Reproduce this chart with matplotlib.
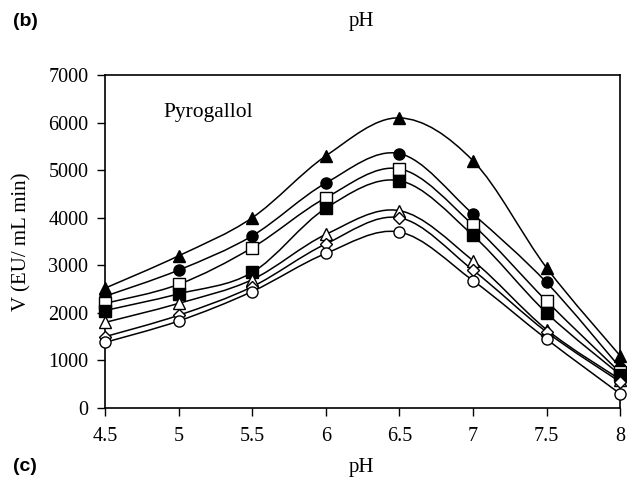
import numpy as np
import matplotlib
matplotlib.use("Agg")
import matplotlib.pyplot as plt
from matplotlib.path import Path
from matplotlib.patches import PathPatch

plt.rcParams['font.family'] = ['Liberation Serif', 'DejaVu Serif']

ph = [4.5, 5, 5.5, 6, 6.5, 7, 7.5, 8]

tri_filled = [2520, 3200, 4000, 5300, 6100, 5200, 2950, 1100]
circ_filled = [2350, 2900, 3620, 4730, 5350, 4080, 2640, 850]
sq_open = [2200, 2600, 3370, 4420, 5030, 3850, 2250, 750]
sq_filled = [2050, 2400, 2850, 4200, 4780, 3630, 2000, 700]
tri_open = [1800, 2200, 2700, 3650, 4150, 3100, 1650, 600]
diam_open = [1500, 1950, 2550, 3450, 4000, 2900, 1600, 550]
circ_open = [1380, 1830, 2450, 3250, 3700, 2680, 1450, 300]

series = [
    (tri_filled, '^', 'black'),
    (circ_filled, 'o', 'black'),
    (sq_open, 's', 'white'),
    (sq_filled, 's', 'black'),
    (tri_open, '^', 'white'),
    (diam_open, 'D', 'white'),
    (circ_open, 'o', 'white'),
]


def smooth_path(x, y):
    # excel-like smoothed line: catmull-rom as cubic bezier
    pts = np.column_stack([x, y]).astype(float)
    verts = [pts[0]]
    codes = [Path.MOVETO]
    n = len(pts)
    for i in range(n - 1):
        p0 = pts[i - 1] if i > 0 else pts[i]
        p1 = pts[i]
        p2 = pts[i + 1]
        p3 = pts[i + 2] if i + 2 < n else pts[i + 1]
        c1 = p1 + (p2 - p0) / 6.0
        c2 = p2 - (p3 - p1) / 6.0
        verts += [c1, c2, p2]
        codes += [Path.CURVE4] * 3
    return Path(verts, codes)


fig = plt.figure(figsize=(6.27, 4.94), dpi=100)
ax = fig.add_axes([0.1675, 0.174, 0.8215, 0.674])

for vals, m, fc in series:
    ax.add_patch(PathPatch(smooth_path(ph, vals), fill=False, edgecolor='black', lw=1.1, zorder=2))
    ms = 6.5 if m == 'D' else 8
    ax.plot(ph, vals, linestyle='none', marker=m, markersize=ms, markerfacecolor=fc,
            markeredgecolor='black', markeredgewidth=1.0, zorder=3, clip_on=False)

ax.set_xlim(4.5, 8)
ax.set_ylim(0, 7000)
ax.set_xticks(ph)
ax.set_xticklabels(['4.5', '5', '5.5', '6', '6.5', '7', '7.5', '8'])
ax.set_yticks(range(0, 7001, 1000))
ax.tick_params(axis='both', direction='out', length=6, width=1, labelsize=14.5, pad=6)
ax.tick_params(axis='x', pad=8)
for s in ax.spines.values():
    s.set_linewidth(1.2)

fig.text(22 / 627, 0.51, 'V (EU/ mL min)', fontsize=15, rotation=90, ha='center', va='center')
ax.text(0.113, 0.875, 'Pyrogallol', transform=ax.transAxes, fontsize=15.5)

fig.text(0.021, 0.957, '(b)', fontsize=14, fontweight='bold', family='Liberation Sans', va='center')
fig.text(0.576, 0.957, 'pH', fontsize=15, ha='center', va='center')
fig.text(0.021, 0.055, '(c)', fontsize=14, fontweight='bold', family='Liberation Sans', va='center')
fig.text(0.576, 0.053, 'pH', fontsize=15, ha='center', va='center')

fig.savefig('out.png', dpi=100)
